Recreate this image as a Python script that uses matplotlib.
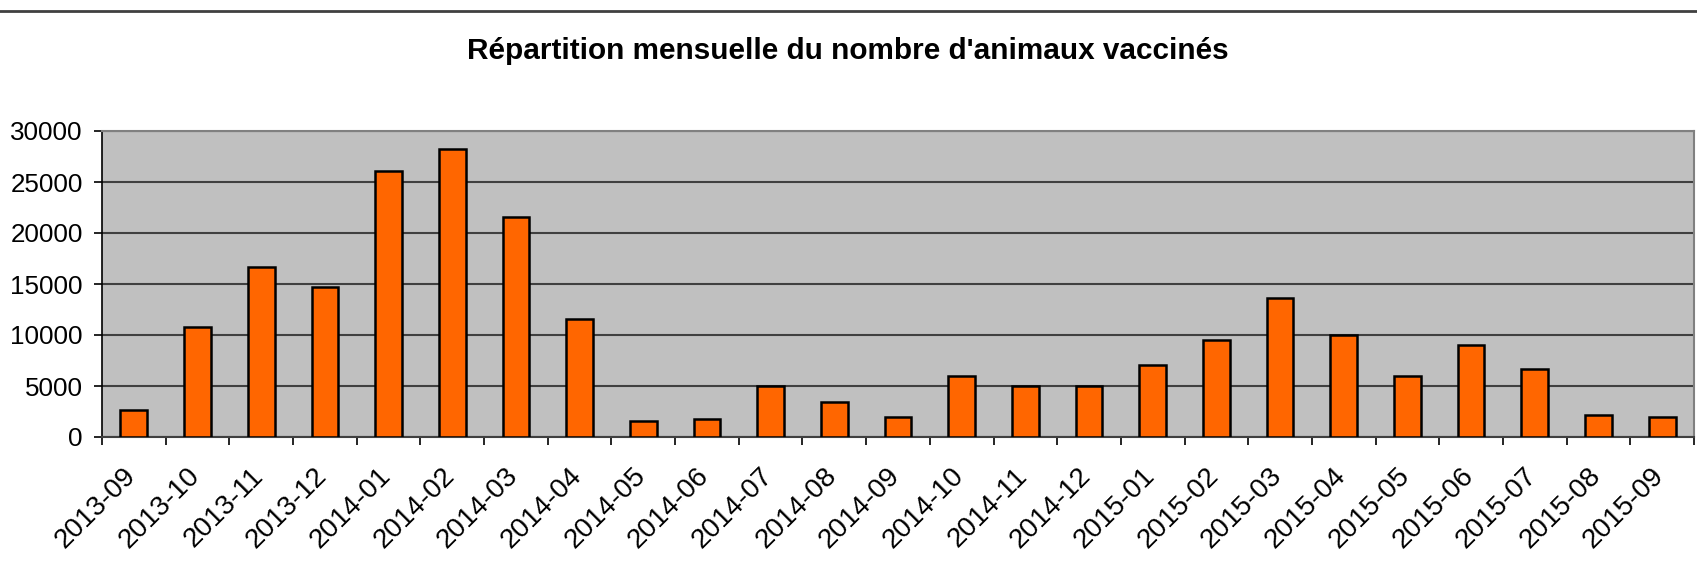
import matplotlib.pyplot as plt
from matplotlib.lines import Line2D
from matplotlib.transforms import ScaledTranslation
import numpy as np

plt.rcParams['font.family'] = ['Liberation Sans', 'DejaVu Sans']

months = ['2013-09', '2013-10', '2013-11', '2013-12', '2014-01', '2014-02',
          '2014-03', '2014-04', '2014-05', '2014-06', '2014-07', '2014-08',
          '2014-09', '2014-10', '2014-11', '2014-12', '2015-01', '2015-02',
          '2015-03', '2015-04', '2015-05', '2015-06', '2015-07', '2015-08',
          '2015-09']
vaccinated = [2600, 10800, 16700, 14700, 26100, 28200,
              21600, 11600, 1600, 1800, 5000, 3400,
              2000, 5950, 5000, 5000, 7100, 9500,
              13600, 10000, 5950, 9050, 6700, 2200,
              2000]

fig = plt.figure(figsize=(16.97, 5.70), dpi=100)
ax = fig.add_axes([102 / 1697, 1 - 437 / 570, (1694 - 102) / 1697, (437 - 131) / 570])

x = np.arange(len(months))
ax.bar(x, vaccinated, width=0.42, color='#ff6600', edgecolor='black',
       linewidth=1.8, zorder=3)

ax.set_facecolor('#c0c0c0')
ax.set_xlim(-0.5, len(months) - 0.5)
ax.set_ylim(0, 30000)
ax.set_yticks(np.arange(0, 30001, 5000))
ax.yaxis.grid(True, color='#404040', linewidth=1.5, zorder=1)

# labels centred on bars, tick marks between categories
ax.set_xticks(x)
ax.set_xticklabels(months, rotation=45, ha='right', va='top',
                   rotation_mode='anchor', fontsize=20)
ax.tick_params(axis='x', which='major', length=0, pad=0)
shift = ScaledTranslation(-11 / 100, -26 / 100, fig.dpi_scale_trans)
for lab in ax.get_xticklabels():
    lab.set_transform(lab.get_transform() + shift)
ax.set_xticks(np.arange(-0.5, len(months), 1), minor=True)
ax.tick_params(axis='x', which='minor', length=5.8, width=1.2, color='black')
ax.tick_params(axis='y', length=5.8, width=1.2, labelsize=18.7, pad=8)

ax.spines['top'].set_color('#808080')
ax.spines['right'].set_color('#808080')
ax.spines['top'].set_linewidth(1.5)
ax.spines['right'].set_linewidth(1.5)
ax.spines['left'].set_color('black')
ax.spines['bottom'].set_color('#404040')
ax.spines['left'].set_linewidth(1.2)
ax.spines['bottom'].set_linewidth(1.5)

fig.text(848 / 1697, 1 - 51 / 570, "Répartition mensuelle du nombre d'animaux vaccinés",
         ha='center', va='center', fontsize=21.4, fontweight='bold')

# thin rule across the top of the image
fig.add_artist(Line2D([0, 1], [1 - 11 / 570, 1 - 11 / 570], color='#404040',
                      linewidth=2, transform=fig.transFigure))

fig.savefig('out.png', dpi=100)
